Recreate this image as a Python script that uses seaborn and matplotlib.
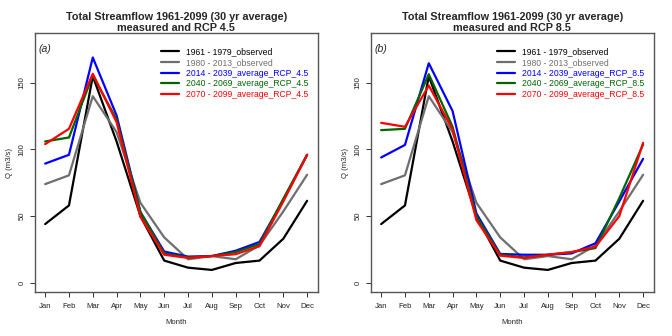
import numpy as np
import pandas as pd
import matplotlib
matplotlib.use("Agg")
import matplotlib.pyplot as plt
import seaborn as sns

months = ["Jan", "Feb", "Mar", "Apr", "May", "Jun", "Jul", "Aug", "Sep", "Oct", "Nov", "Dec"]

obs_1961_1979 = [44, 58, 155, 106, 50, 16.6, 11.3, 9.6, 14.8, 16.6, 33, 61.5]
obs_1980_2013 = [74, 80.6, 140, 113, 60, 34, 17.6, 20, 17.6, 28, 53.5, 81]

rcp45_2014_2039 = [89.4, 96, 169, 125.5, 53, 23.4, 19.6, 20, 24, 30.6, 62, 96]
rcp45_2040_2069 = [106, 109, 155.6, 122.5, 53, 22, 19, 20, 23, 29, 63, 96]
rcp45_2070_2099 = [104, 115.5, 156.8, 120.5, 49.5, 21, 18.6, 20, 21.4, 27.4, 61, 96]

rcp85_2014_2039 = [94, 103.4, 164.7, 128.8, 52, 21.6, 21, 21, 22, 29.6, 61, 93]
rcp85_2040_2069 = [114.5, 115.5, 156.5, 117, 50, 21, 19, 21, 23, 26, 63.5, 103.7]
rcp85_2070_2099 = [120, 117, 148, 115, 47, 20.3, 18.6, 21, 23, 27, 50, 105]

colors = ["#000000", "#6e6e6e", "#0000ff", "#006400", "#ff0000"]

def make_df(rcp, s1, s2, s3):
    labels = ["1961 - 1979_observed", "1980 - 2013_observed",
              f"2014 - 2039_average_RCP_{rcp}", f"2040 - 2069_average_RCP_{rcp}",
              f"2070 - 2099_average_RCP_{rcp}"]
    series = [obs_1961_1979, obs_1980_2013, s1, s2, s3]
    rows = []
    for lab, vals in zip(labels, series):
        for i, v in enumerate(vals):
            rows.append({"month": i + 1, "Q": v, "series": lab})
    return pd.DataFrame(rows), labels

sns.set_style("white")
plt.rcParams["font.family"] = ["Liberation Sans", "DejaVu Sans"]

fig = plt.figure(figsize=(6.72, 3.36), dpi=100)

panels = [
    ("4.5", "(a)", rcp45_2014_2039, rcp45_2040_2069, rcp45_2070_2099, 0.0),
    ("8.5", "(b)", rcp85_2014_2039, rcp85_2040_2069, rcp85_2070_2099, 0.5),
]

for rcp, tag, s1, s2, s3, xoff in panels:
    df, labels = make_df(rcp, s1, s2, s3)
    ax = fig.add_axes([xoff + 0.0516, 0.130, 0.421, 0.771])
    sns.lineplot(data=df, x="month", y="Q", hue="series", hue_order=labels,
                 palette=colors, linewidth=1.6, ax=ax, legend=True)
    ax.set_xlim(0.56, 12.44)
    ax.set_ylim(-7.2, 187.2)
    ax.set_xticks(range(1, 13))
    ax.set_xticklabels(months)
    ax.set_yticks([0, 50, 100, 150])
    ax.set_yticklabels(["0", "50", "100", "150"], rotation=90, va="center")
    ax.tick_params(axis="both", which="both", direction="out", length=3.5,
                   width=0.7, color="#333333", labelsize=5.6, labelcolor="#222222",
                   bottom=True, left=True, pad=4)
    ax.tick_params(axis="y", pad=3)
    for sp in ax.spines.values():
        sp.set_color("#555555")
        sp.set_linewidth(1.0)
    ax.set_xlabel("Month", fontsize=5.6, labelpad=7)
    ax.set_ylabel("Q (m3/s)", fontsize=5.6, labelpad=4)
    ax.text(0.012, 0.96, tag, transform=ax.transAxes, fontsize=7.5,
            style="italic", va="top", ha="left")
    ax.set_title(f"Total Streamflow 1961-2099 (30 yr average)\nmeasured and RCP {rcp}",
                 fontsize=7.8, fontweight="bold", pad=0.6, linespacing=1.15)
    leg = ax.legend(loc="upper right", bbox_to_anchor=(0.985, 0.965), frameon=False,
                    fontsize=6.2, handlelength=2.1, handletextpad=0.8,
                    labelspacing=0.19, borderaxespad=0.2)
    for txt, c in zip(leg.get_texts(), colors):
        txt.set_color(c)
    for ln in leg.get_lines():
        ln.set_linewidth(1.6)

fig.savefig("out.png", dpi=100)
